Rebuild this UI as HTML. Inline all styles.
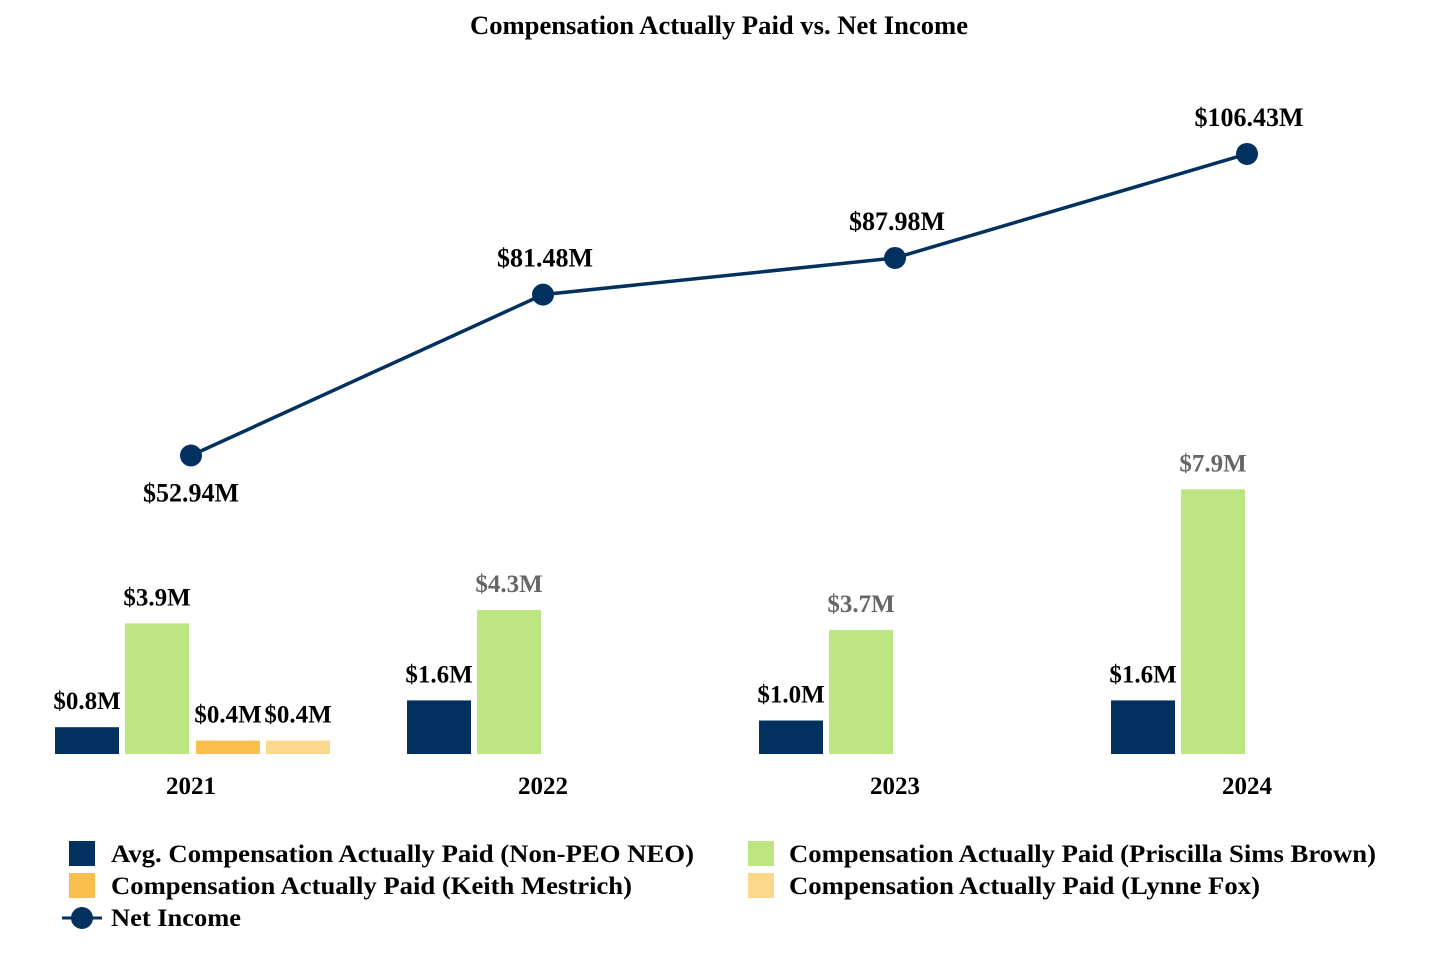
<!DOCTYPE html>
<html><head><meta charset="utf-8"><style>
html,body{margin:0;padding:0;background:#fff;}
svg text{font-family:"Liberation Serif",serif;font-weight:bold;}
</style></head><body>
<svg id="chart" width="1440" height="960" xmlns="http://www.w3.org/2000/svg">
<text x="470" y="34" font-size="26" textLength="498" lengthAdjust="spacingAndGlyphs" fill="#000">Compensation Actually Paid vs. Net Income</text>
<g id="bars"></g>
<g id="line"></g>
<g id="xaxis"></g>
<g id="legend">
  <rect x="69" y="841" width="26" height="25" fill="#03315f"/>
  <text x="111" y="862" font-size="25" textLength="583" lengthAdjust="spacingAndGlyphs">Avg. Compensation Actually Paid (Non-PEO NEO)</text>
  <rect x="748" y="841" width="26" height="25" fill="#bde582"/>
  <text x="789" y="862" font-size="25" textLength="587" lengthAdjust="spacingAndGlyphs">Compensation Actually Paid (Priscilla Sims Brown)</text>
  <rect x="69" y="873" width="26" height="25" fill="#f9be4c"/>
  <text x="111" y="894" font-size="25" textLength="521" lengthAdjust="spacingAndGlyphs">Compensation Actually Paid (Keith Mestrich)</text>
  <rect x="748" y="873" width="26" height="25" fill="#fdd78c"/>
  <text x="789" y="894" font-size="25" textLength="471" lengthAdjust="spacingAndGlyphs">Compensation Actually Paid (Lynne Fox)</text>
  <line x1="62" y1="918" x2="102" y2="918" stroke="#03315f" stroke-width="3"/>
  <circle cx="82" cy="918" r="11" fill="#03315f"/>
  <text x="111" y="926" font-size="25" textLength="130" lengthAdjust="spacingAndGlyphs">Net Income</text>
</g>
</svg>
<script>
const years = ["2021","2022","2023","2024"];
const nonPeo = [0.8, 1.6, 1.0, 1.6];
const priscilla = [3.9, 4.3, 3.7, 7.9];
const keith = [0.4, null, null, null];
const lynne = [0.4, null, null, null];
const netIncome = [52.94, 81.48, 87.98, 106.43];
const netLabels = ["$52.94M","$81.48M","$87.98M","$106.43M"];

const NS="http://www.w3.org/2000/svg";
const base=754;
function xCenter(i){return 191+i*352;}
function yBar(v){return base - v*33.5;}
function yLine(v){return base - v*5.638;}
function mk(tag,attrs,parent){const e=document.createElementNS(NS,tag);for(const k in attrs)e.setAttribute(k,attrs[k]);parent.appendChild(e);return e;}

const series=[
 {vals:nonPeo,color:"#03315f",off:-136,name:"non-peo"},
 {vals:priscilla,color:"#bde582",off:-66,name:"priscilla"},
 {vals:keith,color:"#f9be4c",off:5,name:"keith"},
 {vals:lynne,color:"#fdd78c",off:75,name:"lynne"}
];
const bars=document.getElementById('bars');
series.forEach((s,si)=>{
  s.vals.forEach((v,i)=>{
    if(v==null)return;
    const x=xCenter(i)+s.off, y=yBar(v);
    const r=mk('rect',{x:x,y:y,width:64,height:base-y,fill:s.color},bars);
    
    
    const grey = (si===1 && i>0);
    const t=mk('text',{x:x+32,y:y-18,'text-anchor':'middle','font-size':'25',fill:grey?'#666':'#000'},bars);
    t.textContent='$'+v.toFixed(1)+'M';
    
    
  });
});
const lg=document.getElementById('line');
const pts=netIncome.map((v,i)=>xCenter(i)+','+yLine(v)).join(' ');
const pl=mk('polyline',{points:pts,fill:'none',stroke:'#03315f','stroke-width':3.5},lg);


netIncome.forEach((v,i)=>{
  const c=mk('circle',{cx:xCenter(i),cy:yLine(v),r:11,fill:'#03315f'},lg);
  
  
  const ly = i===0 ? yLine(v)+46 : yLine(v)-28;
  const t=mk('text',{x:xCenter(i)+(i===0?0:2),y:ly,'text-anchor':'middle','font-size':'26',fill:'#000'},lg);
  t.textContent=netLabels[i];
  
  
});
const xa=document.getElementById('xaxis');
years.forEach((y,i)=>{
  const t=mk('text',{x:xCenter(i),y:794,'text-anchor':'middle','font-size':'25',fill:'#000'},xa);
  t.textContent=y;
  
  
});
</script>
</body></html>
